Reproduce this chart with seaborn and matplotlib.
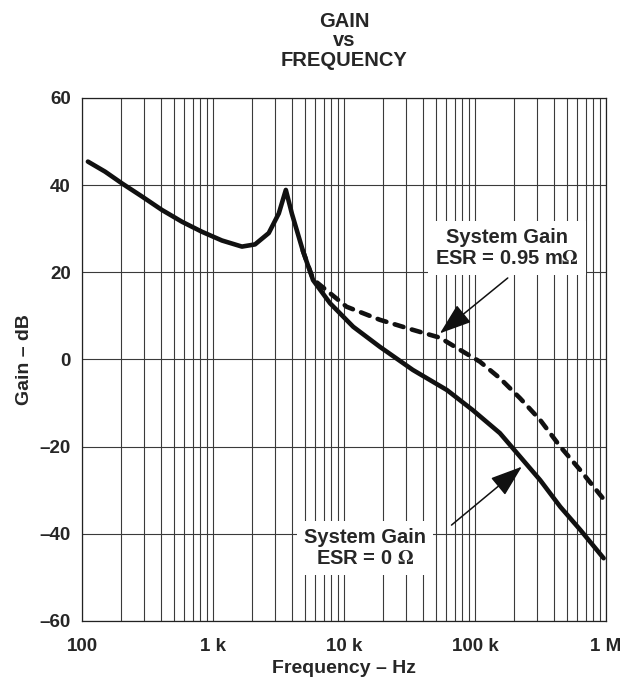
import seaborn as sns
import matplotlib.pyplot as plt
import matplotlib
from matplotlib.ticker import FixedLocator, LogLocator, NullFormatter
import pandas as pd
import numpy as np

matplotlib.use("Agg")

## Data
freq_esr0 = [111, 150, 202, 287, 408, 580, 824, 1170, 1664, 2094, 2665, 3180,
             3600, 4000, 4850, 5810, 7830, 11770, 18800, 33560, 61000, 96000,
             155000, 221000, 315000, 448000, 637000, 960000]
gain_esr0 = [45.4, 43.1, 40.4, 37.4, 34.3, 31.6, 29.3, 27.3, 25.9, 26.4, 29.0, 33.5,
             38.9, 33.5, 25.0, 18.2, 12.9, 7.5, 2.9, -2.4, -7.0, -11.6,
             -16.9, -22.3, -27.7, -33.8, -39.1, -45.6]

freq_esr095 = [4850, 5810, 7830, 10470, 18800, 33560, 54000, 77000, 109000,
               155000, 221000, 315000, 448000, 637000, 951000]
gain_esr095 = [25.0, 18.4, 15.2, 12.1, 9.1, 6.8, 5.0, 2.2, -0.5,
               -4.3, -8.9, -13.9, -20.0, -25.4, -31.9]

xtick_vals = [100, 1e3, 1e4, 1e5, 1e6]
xtick_labels = ["100", "1 k", "10 k", "100 k", "1 M"]
ytick_vals = [-60, -40, -20, 0, 20, 40, 60]
ytick_labels = ["\u201360", "\u201340", "\u201320", "0", "20", "40", "60"]

df = pd.concat([
    pd.DataFrame({"freq": freq_esr0, "gain": gain_esr0, "esr": "0"}),
    pd.DataFrame({"freq": freq_esr095, "gain": gain_esr095, "esr": "0.95"}),
], ignore_index=True)

sns.set_style("white")
plt.rcParams["font.family"] = ["Liberation Sans", "DejaVu Sans"]
plt.rcParams["font.weight"] = "bold"
plt.rcParams["mathtext.fontset"] = "stix"

fig = plt.figure(figsize=(6.22, 6.87), dpi=100)
ax = fig.add_axes([0.1318, 0.0961, 0.8424, 0.7613])

sns.lineplot(data=df[df["esr"] == "0"], x="freq", y="gain", ax=ax,
             color="#111111", linewidth=3.3, zorder=3)
sns.lineplot(data=df[df["esr"] == "0.95"], x="freq", y="gain", ax=ax,
             color="#111111", linewidth=3.3, linestyle=(0, (2.0, 1.9)),
             dash_capstyle="round", zorder=3)

ax.set_xscale("log")
ax.set_xlim(100, 1e6)
ax.set_ylim(-60, 60)

ax.xaxis.set_major_locator(FixedLocator(xtick_vals))
ax.set_xticklabels(xtick_labels)
ax.xaxis.set_minor_locator(LogLocator(base=10, subs=np.arange(2, 10)))
ax.xaxis.set_minor_formatter(NullFormatter())
ax.yaxis.set_major_locator(FixedLocator(ytick_vals))
ax.set_yticklabels(ytick_labels)

ax.grid(True, which="both", axis="x", color="#3a3a3a", linewidth=0.8)
ax.grid(True, which="major", axis="y", color="#3a3a3a", linewidth=0.8)
ax.tick_params(which="both", length=0, labelsize=13.5)
ax.tick_params(axis="x", pad=12)
ax.tick_params(axis="y", pad=8)
for s in ax.spines.values():
    s.set_color("#222222")
    s.set_linewidth(0.9)

ax.set_xlabel("Frequency \u2013 Hz", fontsize=14, fontweight="bold", labelpad=4)
ax.set_ylabel("Gain \u2013 dB", fontsize=14, fontweight="bold", labelpad=5)
ax.set_title("GAIN\nvs\nFREQUENCY", fontsize=14.5, fontweight="bold", pad=23, linespacing=1.04)

box = dict(boxstyle="square,pad=0.35", facecolor="white", edgecolor="none")
ax.text(176000, 25.6, "System Gain\nESR = 0.95 m$\\Omega$", ha="center", va="center",
        fontsize=14.5, fontweight="bold", bbox=box, zorder=4, linespacing=1.1)
ax.text(14500, -43.3, "System Gain\nESR = 0 $\\Omega$", ha="center", va="center",
        fontsize=14.5, fontweight="bold", bbox=box, zorder=4, linespacing=1.1)

arrow = dict(arrowstyle="-|>,head_length=1.0,head_width=0.35", color="#111111",
             lw=1.1, mutation_scale=20, shrinkA=0, shrinkB=0)
ax.annotate("", xy=(54000, 6.0), xytext=(178000, 18.7), arrowprops=arrow, zorder=5)
ax.annotate("", xy=(228000, -24.6), xytext=(66200, -38.0), arrowprops=arrow, zorder=5)

fig.savefig("out.png", dpi=100)
